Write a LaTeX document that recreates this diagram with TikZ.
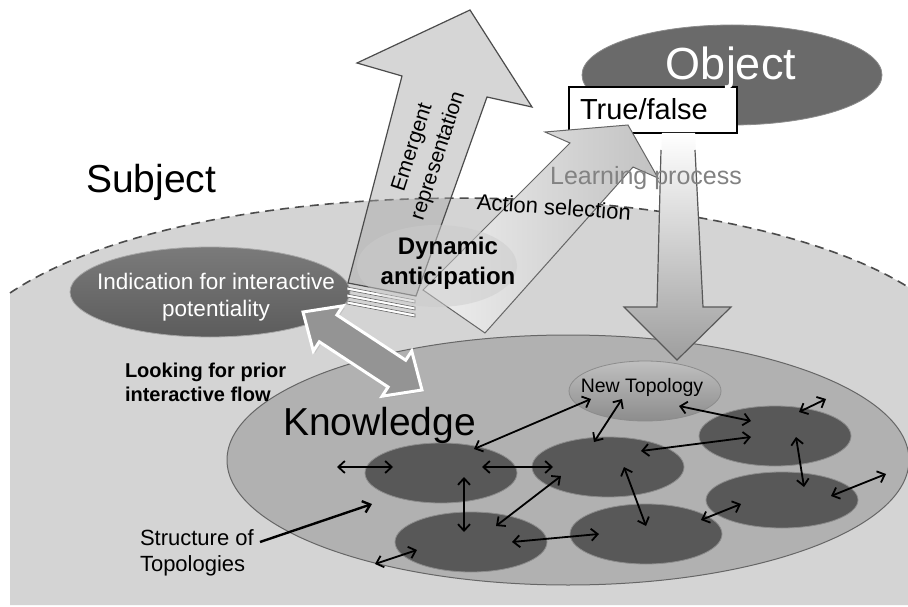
\documentclass[tikz,border=0pt]{standalone}
\usepackage{fontspec}
\setmainfont{Liberation Sans}
\usetikzlibrary{arrows.meta,shapes.geometric,calc,shadows}
\definecolor{subj}{HTML}{D4D4D4}
\definecolor{know}{HTML}{B1B1B1}
\definecolor{topo}{HTML}{585858}
\definecolor{objc}{HTML}{6A6A6A}
\definecolor{indc}{HTML}{6C6C6C}
\definecolor{lproc}{HTML}{828282}
\begin{document}
\begin{tikzpicture}[x=1pt,y=-1pt,
  every node/.style={inner sep=0pt, outer sep=0pt},
  topol/.style={ellipse, draw=black!45, line width=0.8pt, fill=topo, minimum width=152pt, minimum height=60pt},
  link/.style={{Straight Barb[length=6.5pt,width=12pt]}-{Straight Barb[length=6.5pt,width=12pt]}, line width=1.8pt},
  bigtext/.style={font=\fontsize{39}{45}\selectfont},
  bigarrow/.style={line width=1.2pt, line join=miter},
]
\fill[white] (0,0) rectangle (908,607);
\useasboundingbox (0,0) rectangle (908,607);

% Subject region
\fill[subj] (10,293) .. controls (200,165) and (720,170) .. (908,287) -- (908,605) -- (10,605) -- cycle;
\draw[black!70, line width=1.6pt, dash pattern=on 9pt off 6pt] (10,293) .. controls (200,165) and (720,170) .. (908,287);

% Knowledge ellipse
\node[ellipse, draw=black!60, line width=1pt, fill=know, minimum width=682pt, minimum height=250pt] (know) at (568,460) {};

% Indication ellipse
\node[ellipse, draw=black!35, line width=0.8pt, top color=black!52, bottom color=black!64, minimum width=280pt, minimum height=90pt] (ind) at (210,292) {};

% Object and True/false
\node[ellipse, draw=black!45, line width=0.8pt, fill=objc, minimum width=300pt, minimum height=100pt] (obj) at (732,75) {};
\node[draw=black, fill=white, line width=2pt, minimum width=168pt, minimum height=46pt] (tf) at (653,110) {};

% Emergent representation arrow
\draw[bigarrow, draw=black!70, fill=black!35, fill opacity=0.45] (348,283) -- (402,76) -- (357,63) -- (470,10) -- (532,107) -- (487,97) -- (416,296) -- cycle;
\foreach \k in {0,1,2}{
  \draw[draw=black!60, fill=white, line width=0.6pt] (347,{287+7*\k}) -- (415,{300+7*\k}) -- (415,{303+7*\k}) -- (347,{290+7*\k}) -- cycle;
}

% Action selection arrow
\draw[bigarrow, draw=black!60, line width=1pt, left color=white!94!black, right color=black!24] (423,290) -- (570,143) -- (545,132) -- (628,125) -- (658,178) -- (633,167) -- (485,333) -- cycle;

% Learning process arrow
\shade[top color=white, bottom color=black!38] (662,133) -- (695,133) -- (703,307) -- (731,307) -- (677,360) -- (624,307) -- (657,307) -- cycle;
\draw[bigarrow, draw=black!65] (695,150) -- (703,307) -- (731,307) -- (677,360) -- (624,307) -- (657,307) -- (661,150);

% Dynamic anticipation ellipse
\node[ellipse, fill=black!20, fill opacity=0.5, minimum width=160pt, minimum height=82pt] (dyn) at (437,266) {};

% Double arrow (looking for prior interactive flow)
\draw[fill=black!42, draw=white, line width=3pt, line join=miter, drop shadow={opacity=0.2, shadow xshift=2pt, shadow yshift=-2pt}]
  (303,312) -- (342.9,305.8) -- (336.9,315.0) -- (405.7,360.2) -- (411.7,351.0) -- (422,390) -- (382.1,396.2) -- (388.1,387.0) -- (319.3,341.8) -- (313.3,351.0) -- cycle;

% Topology ellipses
\node[ellipse, draw=black!45, line width=0.8pt, top color=black!25, bottom color=black!45, minimum width=152pt, minimum height=60pt] (G) at (645,391) {};
\node[font=\fontsize{19.5}{23}\selectfont, anchor=base] (Gt) at (642,392) {New Topology};
\node[topol] (A) at (441,473) {};
\node[topol] (B) at (471,542) {};
\node[topol] (C) at (608,467) {};
\node[topol] (D) at (646,534) {};
\node[topol] (E) at (775,436) {};
\node[topol, minimum height=56pt] (F) at (782,500) {};

% Links
\draw[link] ($(G)+(-54,8)$) -- ($(A)+(33,-24)$);
\draw[link] ($(G)+(-23,8)$) -- ($(C)+(-14,-25)$);
\draw[link] ($(G)+(34,15)$) -- ($(E)+(-24,-15)$);
\coordinate (e1) at ($(E)+(51,-37)$);
\draw[link] ($(E)+(24,-24)$) -- (e1);
\draw[link] ($(C)+(33,-16)$) -- ($(E)+(-24,1)$);
\draw[link] ($(E)+(21,1)$) -- ($(F)+(22,-13)$);
\coordinate (f1) at ($(F)+(104,-26)$);
\draw[link] ($(F)+(49,-4)$) -- (f1);
\draw[link] ($(D)+(55,-14)$) -- ($(F)+(-41,4)$);
\draw[link] ($(C)+(16,0)$) -- ($(D)+(0,-8)$);
\draw[link] ($(A)+(41,-6)$) -- ($(C)+(-55,0)$);
\draw[link] ($(B)+(25,-16)$) -- ($(C)+(-47,9)$);
\draw[link] ($(B)+(41,0)$) -- ($(D)+(-47,0)$);
\draw[link] ($(A)+(23,4)$) -- ($(B)+(-7,-10)$);
\coordinate (a0) at ($(A)+(-104,-6)$);
\draw[link] (a0) -- ($(A)+(-48,-6)$);
\coordinate (b0) at ($(B)+(-96,22)$);
\draw[link] (b0) -- ($(B)+(-54,8)$);

% Texts
\node[bigtext, anchor=base west] (subjt) at (86,193) {Subject};
\node[bigtext, anchor=base west] (knowt) at (283,435) {Knowledge};
\node[font=\fontsize{45}{54}\selectfont, text=white, anchor=base] (objt) at (731,80) {Object};
\node[font=\fontsize{29}{34}\selectfont, anchor=base west] (tft) at (580,120) {True/false};
\node[font=\fontsize{25}{30}\selectfont, text=lproc, anchor=base] (lpt) at (646,185) {Learning process};
\node[font=\fontsize{22}{26}\selectfont, rotate=-4] (ast) at (554,207) {Action selection};
\node[font=\fontsize{21}{27}\selectfont, rotate=72, align=center] (emt) at (426,152) {Emergent\\representation};
\node[font=\bfseries\fontsize{24}{30}\selectfont, align=center] (dynt) at (448,263) {Dynamic\\anticipation};
\node[font=\fontsize{22.5}{27}\selectfont, text=white, align=center] (indt) at (216,297) {Indication for interactive\\potentiality};
\node[font=\bfseries\fontsize{20}{24}\selectfont, align=left, anchor=west] (lookt) at (125,382) {Looking for prior\\interactive flow};
\node[font=\fontsize{22}{26}\selectfont, align=left, anchor=west] (strt) at (140,553) {Structure of\\Topologies};
\coordinate (st1) at (372,504);
\draw[-{Straight Barb[length=7pt,width=12pt]}, line width=2.4pt] (260,542) -- (st1);
\end{tikzpicture}
\end{document}
